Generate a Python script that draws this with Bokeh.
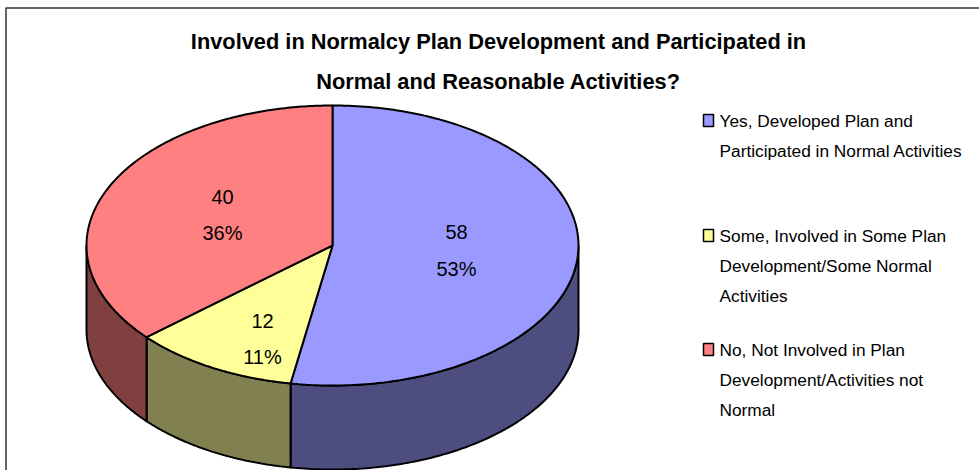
import numpy as np
from bokeh.plotting import figure
from bokeh.embed import file_html
from bokeh.resources import INLINE
from bokeh.models import Range1d
from bokeh.core.properties import value

title_lines = ["Involved in Normalcy Plan Development and Participated in", "Normal and Reasonable Activities?"]
counts = [58, 12, 40]
percents = ["53%", "11%", "36%"]
top_colors = ["#9999FF", "#FFFF99", "#FF8080"]
side_colors = ["#4D4D80", "#808050", "#804040"]
legend_lines = [
    ["Yes, Developed Plan and", "Participated in Normal Activities"],
    ["Some, Involved in Some Plan", "Development/Some Normal", "Activities"],
    ["No, Not Involved in Plan", "Development/Activities not", "Normal"],
]
legend_key_y = [120, 235, 349]
legend_line_y = [[120, 150], [235, 265, 295], [349, 379, 409]]
label_pos = [(456, 231, 268), (262, 320, 356), (222, 196, 232)]

FONT = "Liberation Sans"
W, H = 979, 470
cx, cy, rx, ry, depth = 332, 245, 246, 140, 84

p = figure(width=W, height=H, output_backend="svg", toolbar_location=None,
           x_range=Range1d(0, W), y_range=Range1d(H, 0), min_border=0,
           outline_line_color=None, background_fill_color="white", border_fill_color="white")
p.axis.visible = False
p.grid.visible = False

def ept(t):
    return cx + rx * np.sin(t), cy - ry * np.cos(t)

total = sum(counts)
edges = np.concatenate([[0], np.cumsum(counts)]) / total * 2 * np.pi

# sides (only the front half is visible)
for i in range(3):
    a = max(edges[i], np.pi / 2)
    b = min(edges[i + 1], 3 * np.pi / 2)
    if b <= a:
        continue
    t = np.linspace(a, b, 120)
    x, y = ept(t)
    xs = np.concatenate([x, x[::-1]])
    ys = np.concatenate([y, (y + depth)[::-1]])
    p.patch(xs, ys, fill_color=side_colors[i], line_color="black", line_width=2)

# top face
for i in range(3):
    t = np.linspace(edges[i], edges[i + 1], 200)
    x, y = ept(t)
    p.patch(np.concatenate([[cx], x]), np.concatenate([[cy], y]),
            fill_color=top_colors[i], line_color="black", line_width=2)

# data labels
for c, pc, (lx, y1, y2) in zip(counts, percents, label_pos):
    p.text([lx], [y1], text=[str(c)], text_font=value(FONT), text_font_size="20px", text_color="black",
           text_align="center", text_baseline="middle")
    p.text([lx], [y2], text=[pc], text_font=value(FONT), text_font_size="20px", text_color="black",
           text_align="center", text_baseline="middle")

# title
for line, y in zip(title_lines, [41, 81]):
    p.text([498], [y], text=[line], text_font=value(FONT), text_font_style="bold", text_font_size="21.8px",
           text_color="black", text_align="center", text_baseline="middle")

# legend
for col, ky, lines, ys in zip(top_colors, legend_key_y, legend_lines, legend_line_y):
    p.rect([708], [ky], width=10, height=12, fill_color=col, line_color="black", line_width=1.5)
    for line, y in zip(lines, ys):
        p.text([719], [y], text=[line], text_font=value(FONT), text_font_size="17.3px", text_color="black",
               text_align="left", text_baseline="middle")

# chart frame
p.line([5.5, 5.5, 979], [470, 7.5, 7.5], line_color="#333333", line_width=1.5)

open("out.html", "w").write(file_html(p, INLINE))
